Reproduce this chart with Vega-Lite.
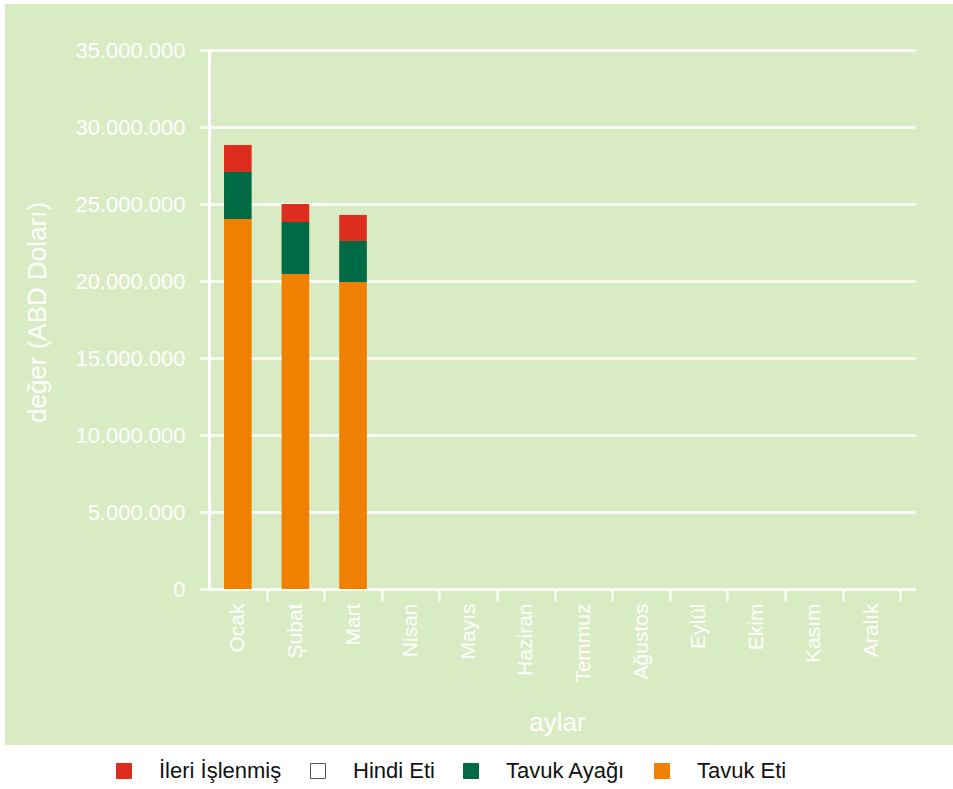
{
  "$schema": "https://vega.github.io/schema/vega-lite/v6.json",
  "width": 948,
  "height": 741,
  "autosize": {"type": "none"},
  "padding": {"left": 5, "top": 4, "right": 0, "bottom": 44},
  "background": "white",
  "config": {
    "view": {"fill": "#d9ebc3", "stroke": null},
    "font": "Liberation Sans",
    "locale": {"number": {"decimal": ",", "thousands": ".", "grouping": [3], "currency": ["", " TL"]}}
  },
  "data": {
    "values": [
      {"ay": "Ocak", "kategori": "Tavuk Eti", "deger": 24030000, "sira": 1},
      {"ay": "Ocak", "kategori": "Tavuk Ayağı", "deger": 3050000, "sira": 2},
      {"ay": "Ocak", "kategori": "İleri İşlenmiş", "deger": 1750000, "sira": 4},
      {"ay": "Şubat", "kategori": "Tavuk Eti", "deger": 20450000, "sira": 1},
      {"ay": "Şubat", "kategori": "Tavuk Ayağı", "deger": 3380000, "sira": 2},
      {"ay": "Şubat", "kategori": "İleri İşlenmiş", "deger": 1170000, "sira": 4},
      {"ay": "Mart", "kategori": "Tavuk Eti", "deger": 19940000, "sira": 1},
      {"ay": "Mart", "kategori": "Tavuk Ayağı", "deger": 2660000, "sira": 2},
      {"ay": "Mart", "kategori": "İleri İşlenmiş", "deger": 1690000, "sira": 4}
    ]
  },
  "mark": {"type": "bar"},
  "encoding": {
    "x": {
      "field": "ay",
      "type": "nominal",
      "scale": {
        "domain": ["Ocak", "Şubat", "Mart", "Nisan", "Mayıs", "Haziran", "Temmuz", "Ağustos", "Eylül", "Ekim", "Kasım", "Aralık"],
        "range": [204, 910],
        "paddingInner": 0.52,
        "paddingOuter": 0.3885,
        "align": 0.335
      },
      "axis": {
        "title": "aylar",
        "titleColor": "white",
        "titleFontSize": 26,
        "titleFontWeight": "normal",
        "titlePadding": 27,
        "titleX": 552,
        "offset": -156,
        "labelAngle": 270,
        "labelColor": "white",
        "labelFontSize": 21,
        "labelPadding": 2,
        "labelOffset": -28.8,
        "tickOffset": 28.8,
        "tickColor": "white",
        "tickWidth": 2,
        "tickSize": 12,
        "domainColor": "white",
        "domainWidth": 2.5
      }
    },
    "y": {
      "field": "deger",
      "type": "quantitative",
      "stack": "zero",
      "scale": {"domain": [0, 35000000], "range": [585, 46], "nice": false, "zero": true},
      "axis": {
        "title": "değer (ABD Doları)",
        "titleColor": "white",
        "titleFontSize": 26,
        "titleFontWeight": "normal",
        "titlePadding": 24,
        "titleY": 308,
        "offset": -204,
        "values": [0, 5000000, 10000000, 15000000, 20000000, 25000000, 30000000, 35000000],
        "format": ",d",
        "labelColor": "white",
        "labelFontSize": 22,
        "labelPadding": 15,
        "tickColor": "white",
        "tickWidth": 2.5,
        "tickSize": 9,
        "domainColor": "white",
        "domainWidth": 3,
        "grid": true,
        "gridColor": "white",
        "gridWidth": 2.5,
        "gridOpacity": 1
      }
    },
    "color": {
      "field": "kategori",
      "type": "nominal",
      "scale": {
        "domain": ["İleri İşlenmiş", "Hindi Eti", "Tavuk Ayağı", "Tavuk Eti"],
        "range": ["#dc2d1e", "#ffffff", "#006a45", "#f08000"]
      },
      "legend": {
        "title": null,
        "orient": "none",
        "legendX": 108,
        "legendY": 756,
        "direction": "horizontal",
        "symbolType": "square",
        "symbolSize": 225,
        "labelFontSize": 22,
        "labelColor": "#111111",
        "labelOffset": 24,
        "columnPadding": 25,
        "labelLimit": 400,
        "encode": {
          "symbols": {
            "update": {
              "stroke": {"signal": "datum.value === 'Hindi Eti' ? '#555555' : scale('color', datum.value)"},
              "strokeWidth": {"value": 1}
            }
          }
        }
      }
    },
    "order": {"field": "sira", "type": "quantitative"}
  }
}
